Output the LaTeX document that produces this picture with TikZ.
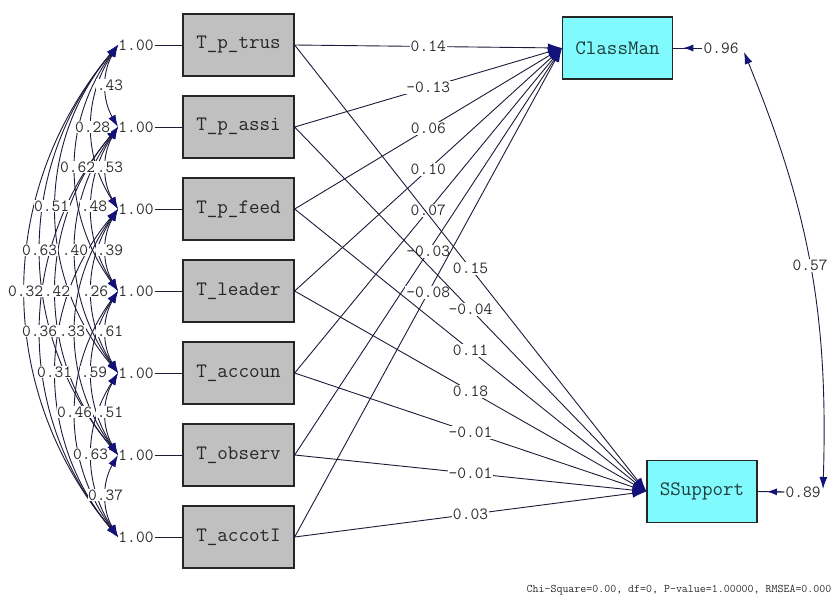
\documentclass[tikz,border=0pt]{standalone}
\usetikzlibrary{arrows.meta,calc}

\definecolor{lnk}{RGB}{28,28,58}
\definecolor{tipc}{RGB}{18,18,120}
\definecolor{boxgray}{RGB}{192,192,192}
\definecolor{boxcyan}{RGB}{128,250,252}
\definecolor{txt}{RGB}{45,45,45}
\definecolor{txtc}{RGB}{30,62,62}

\tikzset{
  obsbox/.style={draw=black!85, line width=1.3pt, fill=boxgray,
    minimum width=111pt, minimum height=62pt, inner sep=0pt,
    font=\fontsize{20.5}{20.5}\selectfont\ttfamily, text=black!85},
  latbox/.style={obsbox, fill=boxcyan, minimum width=110pt, text=txtc},
  numlbl/.style={font=\fontsize{17}{17}\selectfont\ttfamily, text=txt, inner sep=1pt},
  pathlbl/.style={numlbl, fill=white},
  covlbl/.style={numlbl, fill=white, anchor=east, inner sep=0.6pt},
  link/.style={draw=lnk, line width=0.9pt},
  onehead/.style={link, -{Latex[length=14pt,width=9pt,color=tipc]}},
  smallhead/.style={link, -{Latex[length=10pt,width=7pt,color=tipc]}},
  twohead/.style={link, {Latex[length=12pt,width=8pt,color=tipc]}-{Latex[length=12pt,width=8pt,color=tipc]}},
}

\begin{document}
\begin{tikzpicture}[x=1pt,y=-1pt]
\useasboundingbox[fill=white] (0,0) rectangle (834,610);

% observed variables
\node[obsbox] (x1) at (238.5,45)  {T\_p\_trus};
\node[obsbox] (x2) at (238.5,127) {T\_p\_assi};
\node[obsbox] (x3) at (238.5,209) {T\_p\_feed};
\node[obsbox] (x4) at (238.5,291) {T\_leader};
\node[obsbox] (x5) at (238.5,373) {T\_accoun};
\node[obsbox] (x6) at (238.5,455) {T\_observ};
\node[obsbox] (x7) at (238.5,537) {T\_accotI};

% endogenous variables
\node[latbox] (cm) at (617.5,48)  {ClassMan};
\node[latbox] (ss) at (702,491.5) {SSupport};

% variances of the exogenous variables
\foreach \i/\yy in {1/45,2/127,3/209,4/291,5/373,6/455,7/537}{
  \node[numlbl] (v\i) at (136,\yy) {1.00};
  \coordinate (a\i) at (118,\yy);
  \draw[link] (v\i) -- (x\i);
}

% covariance arcs
\foreach \i/\j/\b in {1/2/30,2/3/30,3/4/30,4/5/30,5/6/30,6/7/30,
                      1/3/33,2/4/33,3/5/33,4/6/33,5/7/33,
                      1/4/36,2/5/36,3/6/36,4/7/36,
                      1/5/40,2/6/40,3/7/40,
                      1/6/40,2/7/40,
                      1/7/40}{
  \draw[twohead] (a\i) to[bend right=\b] (a\j);
}

% covariance values
\node[covlbl] (c12) at (124,85)  {.43};
\node[covlbl] (c13) at (111,127) {0.28};
\node[covlbl] (c14) at (96,167)  {0.62};
\node[covlbl] (c23) at (124,167) {.53};
\node[covlbl] (c15) at (70,206)  {0.51};
\node[covlbl] (c24) at (108,206) {.48};
\node[covlbl] (c16) at (58,250)  {0.63};
\node[covlbl] (c25) at (89,250)  {.40};
\node[covlbl] (c34) at (124,250) {.39};
\node[covlbl] (c17) at (44,291)  {0.32};
\node[covlbl] (c26) at (71,291)  {.42};
\node[covlbl] (c35) at (109,291) {.26};
\node[covlbl] (c27) at (58,331)  {0.36};
\node[covlbl] (c36) at (86,331)  {.33};
\node[covlbl] (c45) at (124,331) {.61};
\node[covlbl] (c37) at (73,372)  {0.31};
\node[covlbl] (c46) at (108,372) {.59};
\node[covlbl] (c47) at (93,412)  {0.46};
\node[covlbl] (c56) at (124,412) {.51};
\node[covlbl] (c57) at (109,454) {0.63};
\node[covlbl] (c67) at (124,495) {0.37};

% structural paths to ClassMan
\foreach \i/\v in {1/0.14,2/-0.13,3/0.06,4/0.10,5/0.07,6/-0.03,7/-0.08}{
  \draw[onehead] (x\i.east) -- node[pathlbl, midway] {\v} (cm.west);
}
% structural paths to SSupport
\foreach \i/\v in {1/0.15,2/-0.04,3/0.11,4/0.18,5/-0.01,6/-0.01,7/0.03}{
  \draw[onehead] (x\i.east) -- node[pathlbl, midway] {\v} (ss.west);
}

% error variances
\node[numlbl] (e1) at (721,48)  {0.96};
\node[numlbl] (e2) at (803,492) {0.89};
\draw[link] (cm.east) -- (e1.west);
\draw[smallhead] (e1.west) -- ($(cm.east)!0.35!(e1.west)$);
\draw[link] (ss.east) -- (e2.west);
\draw[smallhead] (e2.west) -- ($(ss.east)!0.35!(e2.west)$);

% error covariance
\coordinate (r1) at (744,52);
\coordinate (r2) at (823,489);
\draw[twohead] (r1) to[bend left=12] node[pathlbl, midway] (r12) {0.57} (r2);

% fit statistics
\node[font=\fontsize{11.6}{11.6}\selectfont\ttfamily, text=txt] (fit) at (679,590)
  {Chi-Square=0.00, df=0, P-value=1.00000, RMSEA=0.000};
\end{tikzpicture}
\end{document}
